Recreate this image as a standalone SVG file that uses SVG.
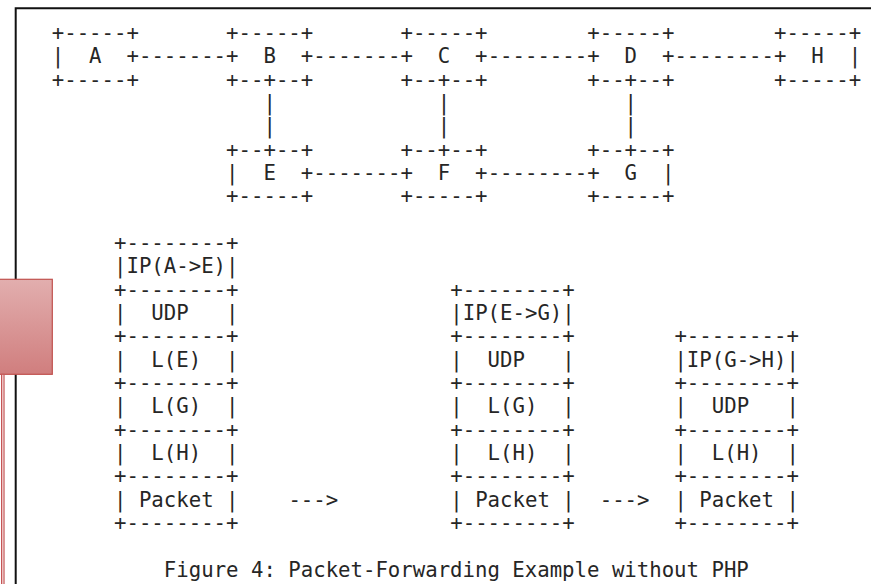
<svg xmlns="http://www.w3.org/2000/svg" width="871" height="584" viewBox="0 0 871 584" xml:space="preserve">
<defs>
<linearGradient id="rg" x1="0" y1="0" x2="0" y2="1"><stop offset="0" stop-color="#e2aeae"/><stop offset="1" stop-color="#d07e7e"/></linearGradient>
</defs>
<style>
.t{font-family:"DejaVu Sans Mono","Liberation Mono",monospace;font-size:20.68px;fill:#262626;white-space:pre}
</style>
<rect width="871" height="584" fill="#fff"/>
<path d="M15.7 584V8.3H871" fill="none" stroke="#111" stroke-width="2"/>
<rect x="-2" y="279.3" width="54.3" height="95" fill="url(#rg)" stroke="#c0504d" stroke-width="1.2"/>
<rect x="1.5" y="374.3" width="2.6" height="212" fill="#ecc0c0" stroke="#c45555" stroke-width="1"/>

<g id="node-A" class="t">
<text xml:space="preserve" x="51.77" y="39.96">+-----+</text>
<text xml:space="preserve" x="51.77" y="63.30">|  A  +</text>
<text xml:space="preserve" x="51.77" y="86.64">+-----+</text>
</g>
<g id="node-B" class="t">
<text xml:space="preserve" x="226.11" y="39.96">+-----+</text>
<text xml:space="preserve" x="226.11" y="63.30">+  B  +</text>
<text xml:space="preserve" x="226.11" y="86.64">+--+--+</text>
</g>
<g id="node-C" class="t">
<text xml:space="preserve" x="400.45" y="39.96">+-----+</text>
<text xml:space="preserve" x="400.45" y="63.30">+  C  +</text>
<text xml:space="preserve" x="400.45" y="86.64">+--+--+</text>
</g>
<g id="node-D" class="t">
<text xml:space="preserve" x="587.25" y="39.96">+-----+</text>
<text xml:space="preserve" x="587.25" y="63.30">+  D  +</text>
<text xml:space="preserve" x="587.25" y="86.64">+--+--+</text>
</g>
<g id="node-H" class="t">
<text xml:space="preserve" x="774.04" y="39.96">+-----+</text>
<text xml:space="preserve" x="774.04" y="63.30">+  H  |</text>
<text xml:space="preserve" x="774.04" y="86.64">+-----+</text>
</g>
<g id="node-E" class="t">
<text xml:space="preserve" x="226.11" y="156.66">+--+--+</text>
<text xml:space="preserve" x="226.11" y="180.00">|  E  +</text>
<text xml:space="preserve" x="226.11" y="203.34">+-----+</text>
</g>
<g id="node-F" class="t">
<text xml:space="preserve" x="400.45" y="156.66">+--+--+</text>
<text xml:space="preserve" x="400.45" y="180.00">+  F  +</text>
<text xml:space="preserve" x="400.45" y="203.34">+-----+</text>
</g>
<g id="node-G" class="t">
<text xml:space="preserve" x="587.25" y="156.66">+--+--+</text>
<text xml:space="preserve" x="587.25" y="180.00">+  G  |</text>
<text xml:space="preserve" x="587.25" y="203.34">+-----+</text>
</g>

<g id="stack-1" class="t">
<text xml:space="preserve" x="114.04" y="250.02">+--------+</text>
<text xml:space="preserve" x="114.04" y="273.36">|IP(A-&gt;E)|</text>
<text xml:space="preserve" x="114.04" y="296.70">+--------+</text>
<text xml:space="preserve" x="114.04" y="320.04">|  UDP   |</text>
<text xml:space="preserve" x="114.04" y="343.38">+--------+</text>
<text xml:space="preserve" x="114.04" y="366.72">|  L(E)  |</text>
<text xml:space="preserve" x="114.04" y="390.06">+--------+</text>
<text xml:space="preserve" x="114.04" y="413.40">|  L(G)  |</text>
<text xml:space="preserve" x="114.04" y="436.74">+--------+</text>
<text xml:space="preserve" x="114.04" y="460.08">|  L(H)  |</text>
<text xml:space="preserve" x="114.04" y="483.42">+--------+</text>
<text xml:space="preserve" x="114.04" y="506.76">| Packet |</text>
<text xml:space="preserve" x="114.04" y="530.10">+--------+</text>
</g>
<g id="stack-2" class="t">
<text xml:space="preserve" x="450.27" y="296.70">+--------+</text>
<text xml:space="preserve" x="450.27" y="320.04">|IP(E-&gt;G)|</text>
<text xml:space="preserve" x="450.27" y="343.38">+--------+</text>
<text xml:space="preserve" x="450.27" y="366.72">|  UDP   |</text>
<text xml:space="preserve" x="450.27" y="390.06">+--------+</text>
<text xml:space="preserve" x="450.27" y="413.40">|  L(G)  |</text>
<text xml:space="preserve" x="450.27" y="436.74">+--------+</text>
<text xml:space="preserve" x="450.27" y="460.08">|  L(H)  |</text>
<text xml:space="preserve" x="450.27" y="483.42">+--------+</text>
<text xml:space="preserve" x="450.27" y="506.76">| Packet |</text>
<text xml:space="preserve" x="450.27" y="530.10">+--------+</text>
</g>
<g id="stack-3" class="t">
<text xml:space="preserve" x="674.42" y="343.38">+--------+</text>
<text xml:space="preserve" x="674.42" y="366.72">|IP(G-&gt;H)|</text>
<text xml:space="preserve" x="674.42" y="390.06">+--------+</text>
<text xml:space="preserve" x="674.42" y="413.40">|  UDP   |</text>
<text xml:space="preserve" x="674.42" y="436.74">+--------+</text>
<text xml:space="preserve" x="674.42" y="460.08">|  L(H)  |</text>
<text xml:space="preserve" x="674.42" y="483.42">+--------+</text>
<text xml:space="preserve" x="674.42" y="506.76">| Packet |</text>
<text xml:space="preserve" x="674.42" y="530.10">+--------+</text>
</g>

<g id="connectors" class="t">
<text xml:space="preserve" x="138.94" y="63.30">-------</text>
<text xml:space="preserve" x="313.28" y="63.30">-------</text>
<text xml:space="preserve" x="487.63" y="63.30">--------</text>
<text xml:space="preserve" x="674.42" y="63.30">--------</text>
<text xml:space="preserve" x="263.47" y="109.98">|</text>
<text xml:space="preserve" x="263.47" y="133.32">|</text>
<text xml:space="preserve" x="437.81" y="109.98">|</text>
<text xml:space="preserve" x="437.81" y="133.32">|</text>
<text xml:space="preserve" x="624.61" y="109.98">|</text>
<text xml:space="preserve" x="624.61" y="133.32">|</text>
<text xml:space="preserve" x="313.28" y="180.00">-------</text>
<text xml:space="preserve" x="487.63" y="180.00">--------</text>
<text xml:space="preserve" x="288.38" y="506.76">---&gt;</text>
<text xml:space="preserve" x="599.70" y="506.76">---&gt;</text>
</g>

<g id="caption" class="t">
<text xml:space="preserve" x="163.85" y="576.78">Figure 4: Packet-Forwarding Example without PHP</text>
</g>
</svg>
